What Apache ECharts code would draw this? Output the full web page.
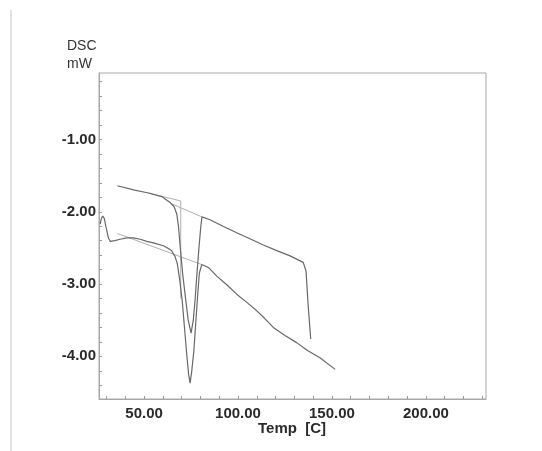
<!DOCTYPE html>
<html>
<head>
<meta charset="utf-8">
<script src="https://cdn.jsdelivr.net/npm/echarts@6/dist/echarts.min.js"></script>
<style>
  html, body { margin: 0; padding: 0; background: #fff; }
  #chart { width: 542px; height: 451px; }
</style>
</head>
<body>
<div id="chart"></div>
<script>
// DSC thermogram: heat flow (mW) against temperature (°C)

// First heating run (upper trace)
const run1Temp = [35.8, 45.0, 52.3, 59.4, 63.8, 66.0, 67.4, 68.3, 69.1, 70.5, 71.8, 73.5, 75.0, 76.2, 77.2, 78.0, 79.2, 80.2, 80.8, 81.6, 85.1, 92.0, 99.3, 106.0, 113.5, 120.0, 127.7, 134.7, 136.2, 137.4, 138.7];
const run1Dsc  = [-1.64, -1.70, -1.74, -1.79, -1.87, -1.93, -2.03, -2.20, -2.45, -2.85, -3.14, -3.50, -3.68, -3.50, -3.20, -2.90, -2.50, -2.20, -2.07, -2.08, -2.11, -2.20, -2.29, -2.37, -2.46, -2.53, -2.61, -2.70, -2.82, -3.32, -3.76];

// Second heating run (lower trace, with start-up transient)
const run2Temp = [26.6, 27.3, 28.0, 28.8, 29.8, 31.0, 32.0, 32.8, 34.5, 37.2, 40.8, 44.3, 48.0, 51.4, 55.0, 60.3, 62.5, 64.7, 66.5, 67.7, 69.0, 70.3, 71.5, 72.7, 73.7, 74.5, 75.4, 76.5, 77.6, 78.4, 79.4, 80.7, 84.2, 88.7, 94.0, 99.3, 105.0, 110.0, 114.0, 118.8, 125.0, 131.2, 137.0, 143.6, 151.7];
const run2Dsc  = [-2.17, -2.09, -2.06, -2.09, -2.22, -2.36, -2.41, -2.42, -2.40, -2.38, -2.36, -2.36, -2.38, -2.41, -2.43, -2.47, -2.50, -2.54, -2.62, -2.72, -2.95, -3.23, -3.60, -3.97, -4.25, -4.37, -4.20, -3.92, -3.50, -3.20, -2.85, -2.73, -2.77, -2.89, -3.01, -3.14, -3.26, -3.37, -3.47, -3.60, -3.71, -3.81, -3.92, -4.02, -4.18];

// Analysis construction lines (tangents / peak baselines)
const run1TangentTemp  = [52.3, 69.5, 69.5];
const run1TangentDsc   = [-1.74, -1.85, -3.20];
const run1BaselineTemp = [63.8, 80.7];
const run1BaselineDsc  = [-1.88, -2.07];
const run2BaselineTemp = [35.8, 80.7];
const run2BaselineDsc  = [-2.30, -2.73];

// Axis ranges and labelled ticks
const tempRange = [26, 232];
const dscRange  = [-4.59, -0.08];
const tempLabelStep = 50;
const dscLabelStep  = 1;

const zip = (xs, ys) => xs.map((x, i) => [x, ys[i]]);
const isStep = (v, step) => Math.abs(v / step - Math.round(v / step)) < 1e-6;

const mainLine  = { color: '#686868', width: 1.2 };
const guideLine = { color: '#b0b0b0', width: 1 };
const labelFont = { fontFamily: 'Liberation Sans, Arial, sans-serif', fontSize: 15, fontWeight: 'bold', color: '#2a2a2a' };

const chart = echarts.init(document.getElementById('chart'), null, { renderer: 'canvas' });

chart.setOption({
  animation: false,
  backgroundColor: '#fff',
  grid: {
    left: 99, right: 56, top: 73, bottom: 52,
    show: true, borderColor: '#a8a8a8', borderWidth: 1, backgroundColor: 'transparent'
  },
  xAxis: {
    type: 'value',
    min: tempRange[0], max: tempRange[1],
    splitNumber: 20,
    axisLine: { lineStyle: { color: '#a8a8a8' } },
    axisTick: { inside: true, length: 3, lineStyle: { color: '#9a9a9a' } },
    splitLine: { show: false },
    axisLabel: Object.assign({
      margin: 7,
      showMinLabel: false, showMaxLabel: false,
      formatter: v => isStep(v, tempLabelStep) ? v.toFixed(2) : ''
    }, labelFont)
  },
  yAxis: {
    type: 'value',
    min: dscRange[0], max: dscRange[1],
    splitNumber: 22,
    axisLine: { lineStyle: { color: '#a8a8a8' } },
    axisTick: { inside: true, length: 3, lineStyle: { color: '#9a9a9a' } },
    splitLine: { show: false },
    axisLabel: Object.assign({
      margin: 3,
      showMinLabel: false, showMaxLabel: false,
      formatter: v => isStep(v, dscLabelStep) ? v.toFixed(2) : ''
    }, labelFont)
  },
  graphic: [
    { type: 'line', shape: { x1: 11, y1: 10, x2: 11, y2: 451 }, style: { stroke: '#c4c4c4', lineWidth: 1 } },
    { type: 'text', left: 67, top: 39, style: { text: 'DSC', font: '14px "Liberation Sans", Arial, sans-serif', fill: '#333' } },
    { type: 'text', left: 67, top: 57, style: { text: 'mW', font: '14px "Liberation Sans", Arial, sans-serif', fill: '#333' } },
    { type: 'text', left: 258, top: 421, style: { text: 'Temp  [C]', font: 'bold 15px "Liberation Sans", Arial, sans-serif', fill: '#2a2a2a' } }
  ],
  series: [
    { type: 'line', data: zip(run1TangentTemp, run1TangentDsc), showSymbol: false, lineStyle: guideLine, silent: true },
    { type: 'line', data: zip(run1BaselineTemp, run1BaselineDsc), showSymbol: false, lineStyle: guideLine, silent: true },
    { type: 'line', data: zip(run2BaselineTemp, run2BaselineDsc), showSymbol: false, lineStyle: guideLine, silent: true },
    { type: 'line', name: 'Run 1', data: zip(run1Temp, run1Dsc), showSymbol: false, lineStyle: mainLine },
    { type: 'line', name: 'Run 2', data: zip(run2Temp, run2Dsc), showSymbol: false, lineStyle: mainLine }
  ]
});
</script>
</body>
</html>
